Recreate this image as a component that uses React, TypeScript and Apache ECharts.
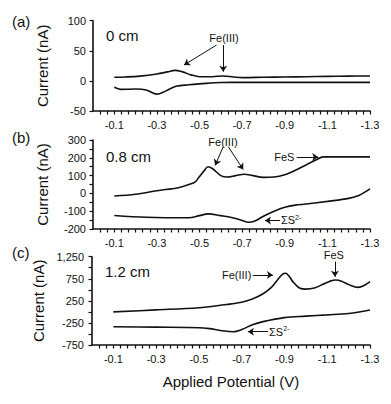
import React, { useEffect, useRef } from "react";
import * as echarts from "echarts";

// ---- Data (potential in V, current in nA) ----
const aUpperV = [-0.1, -0.15, -0.22, -0.3, -0.35, -0.385, -0.42, -0.46, -0.5, -0.56, -0.61, -0.66, -0.7, -0.8, -0.9, -1.0, -1.1, -1.2, -1.3];
const aUpperI = [6, 6.5, 8, 11.5, 15, 17.5, 15, 10, 7, 7, 8.2, 6.5, 5.5, 6, 6.5, 7, 7.5, 8, 8.2];
const aLowerV = [-0.1, -0.13, -0.2, -0.25, -0.3, -0.34, -0.39, -0.45, -0.5, -0.6, -0.7, -0.9, -1.1, -1.3];
const aLowerI = [-10.6, -14, -13.5, -15, -22, -17, -9, -6.5, -5, -2.6, -2.5, -2.4, -2.4, -2.4];

const bUpperV = [-0.1, -0.2, -0.3, -0.4, -0.45, -0.48, -0.5, -0.52, -0.54, -0.56, -0.6, -0.63, -0.67, -0.71, -0.75, -0.8, -0.85, -0.9, -0.95, -1.0, -1.05, -1.08, -1.2, -1.3];
const bUpperI = [-15, -5, 15, 32, 50, 65, 95, 125, 150, 140, 100, 92, 100, 108, 100, 90, 92, 105, 130, 160, 190, 205, 205, 205];
const bLowerV = [-0.1, -0.25, -0.45, -0.5, -0.54, -0.6, -0.65, -0.7, -0.73, -0.76, -0.8, -0.85, -0.9, -0.95, -1.0, -1.1, -1.2, -1.25, -1.3];
const bLowerI = [-124, -134, -137, -125, -115, -125, -135, -152, -162, -155, -128, -100, -78, -66, -60, -45, -28, -10, 25];

const cUpperV = [-0.1, -0.3, -0.5, -0.6, -0.7, -0.75, -0.8, -0.84, -0.87, -0.89, -0.905, -0.92, -0.94, -0.97, -1.0, -1.04, -1.08, -1.11, -1.14, -1.17, -1.2, -1.245, -1.27, -1.3];
const cUpperI = [0, 45, 95, 150, 220, 290, 410, 560, 740, 850, 875, 820, 680, 540, 515, 540, 625, 690, 722, 690, 620, 555, 590, 684];
const cLowerV = [-0.1, -0.3, -0.5, -0.55, -0.6, -0.66, -0.7, -0.75, -0.8, -0.9, -1.0, -1.1, -1.2, -1.3];
const cLowerI = [-335, -345, -358, -380, -420, -449, -400, -290, -220, -130, -95, -68, -35, 43];

const xLabels = [-0.1, -0.3, -0.5, -0.7, -0.9, -1.1, -1.3];
const aYTicks = [-50, 0, 50, 100];
const cYLabels = [-750, -250, 250, 750, 1250];

const FONT = "Liberation Sans, Arial, sans-serif";
const INK = "#111";

const zip = (v: number[], i: number[]) => v.map((x, k) => [x, i[k]]);

const xTickValues: number[] = [];
for (let k = 1; k <= 39; k++) xTickValues.push(-k / 30);

function App() {
  const ref = useRef<HTMLDivElement>(null);
  useEffect(() => {
    if (!ref.current) return;
    const chart = echarts.init(ref.current, null, { renderer: "svg" });

    const grids = [
      { left: 93, top: 20.7, width: 277, height: 90.3 },
      { left: 93, top: 140, width: 277, height: 89 },
      { left: 92, top: 256.7, width: 278, height: 88.3 },
    ];

    const xAxis = grids.map((_, i) => ({
      type: "value",
      gridIndex: i,
      min: -1.3,
      max: 0,
      inverse: true,
      axisLine: { show: true, onZero: false, lineStyle: { color: INK, width: 1.6 } },
      axisTick: {
        show: true,
        inside: false,
        length: 3.5,
        customValues: xTickValues,
        lineStyle: { color: INK, width: 1.2 },
      },
      axisLabel: {
        customValues: xLabels,
        margin: 8,
        fontSize: 11,
        fontFamily: FONT,
        color: INK,
        formatter: (v: number) => v.toFixed(1),
      },
      splitLine: { show: false },
      ...(i === 2
        ? {
            name: "Applied Potential (V)",
            nameLocation: "middle",
            nameGap: 29,
            nameTextStyle: { fontSize: 15, fontFamily: FONT, color: INK },
          }
        : {}),
    }));

    const yCommon = (i: number) => ({
      type: "value",
      gridIndex: i,
      name: "Current (nA)",
      nameLocation: "middle",
      nameGap: i === 2 ? 42 : 43,
      nameTextStyle: { fontSize: 15, fontFamily: FONT, color: INK },
      axisLine: { show: true, onZero: false, lineStyle: { color: INK, width: 1.6 } },
      splitLine: { show: false },
    });

    const yAxis = [
      {
        ...yCommon(0),
        min: -50,
        max: 100,
        interval: 50,
        axisTick: { show: true, length: 3.5, customValues: aYTicks, lineStyle: { color: INK, width: 1.2 } },
        axisLabel: { margin: 7, fontSize: 11, fontFamily: FONT, color: INK },
      },
      {
        ...yCommon(1),
        min: -200,
        max: 300,
        interval: 100,
        axisTick: { show: true, length: 3.5, lineStyle: { color: INK, width: 1.2 } },
        minorTick: { show: true, splitNumber: 2, length: 3.5, lineStyle: { color: INK, width: 1.2 } },
        axisLabel: { margin: 7, fontSize: 11, fontFamily: FONT, color: INK },
      },
      {
        ...yCommon(2),
        min: -750,
        max: 1250,
        axisTick: {
          show: true,
          length: 3.5,
          customValues: [-750, -500, -250, 0, 250, 500, 750, 1000, 1250],
          lineStyle: { color: INK, width: 1.2 },
        },
        axisLabel: {
          customValues: cYLabels,
          margin: 8,
          fontSize: 11,
          fontFamily: FONT,
          color: INK,
          formatter: (v: number) => v.toLocaleString("en-US"),
        },
      },
    ];

    const lineStyle = { color: INK, width: 1.6 };
    const arrow = (p: number[], q: number[]) => [{ coord: p }, { coord: q }];
    const markLine = (lines: any[]) => ({
      silent: true,
      symbol: ["none", "arrow"],
      symbolSize: 6,
      lineStyle: { color: INK, width: 1, type: "solid" },
      label: { show: false },
      data: lines,
    });
    const txt = (coord: number[], text: string, align = "center", offset = [0, 0]) => ({
      coord,
      symbol: "circle",
      symbolSize: 0.1,
      itemStyle: { color: "rgba(0,0,0,0)" },
      label: {
        show: true,
        position: "inside",
        formatter: text,
        align,
        offset,
        verticalAlign: "middle",
        fontSize: 11,
        fontFamily: FONT,
        color: INK,
        rich: {
          a: { fontSize: 11, fontFamily: FONT, color: INK },
          b: { fontSize: 7, fontFamily: FONT, color: INK, padding: [0, 0, 6, 0] },
        },
      },
    });
    const markPoint = (items: any[]) => ({ silent: true, data: items });

    const series: any[] = [
      {
        type: "line", xAxisIndex: 0, yAxisIndex: 0, data: zip(aUpperV, aUpperI),
        showSymbol: false, smooth: 0.35, lineStyle,
        markLine: markLine([
          arrow([-0.58, 59.6], [-0.427, 26.4]),
          arrow([-0.611, 59.6], [-0.611, 15.3]),
        ]),
        markPoint: markPoint([txt([-0.615, 71], "Fe(III)")]),
      },
      {
        type: "line", xAxisIndex: 0, yAxisIndex: 0, data: zip(aLowerV, aLowerI),
        showSymbol: false, smooth: 0.35, lineStyle,
      },
      {
        type: "line", xAxisIndex: 1, yAxisIndex: 1, data: zip(bUpperV, bUpperI),
        showSymbol: false, smooth: 0.35, lineStyle,
        markLine: markLine([
          arrow([-0.611, 262], [-0.573, 157]),
          arrow([-0.635, 262], [-0.705, 134]),
          arrow([-0.956, 205], [-1.057, 205]),
        ]),
        markPoint: markPoint([
          txt([-0.61, 288], "Fe(III)"),
          txt([-0.945, 205], "FeS", "right"),
        ]),
      },
      {
        type: "line", xAxisIndex: 1, yAxisIndex: 1, data: zip(bLowerV, bLowerI),
        showSymbol: false, smooth: 0.35, lineStyle,
        markLine: markLine([arrow([-0.878, -152], [-0.807, -152])]),
        markPoint: markPoint([txt([-0.882, -152], "{a|ΣS}{b|2-}", "left")]),
      },
      {
        type: "line", xAxisIndex: 2, yAxisIndex: 2, data: zip(cUpperV, cUpperI),
        showSymbol: false, smooth: 0.35, lineStyle,
        markLine: markLine([
          arrow([-0.752, 835], [-0.846, 835]),
          arrow([-1.136, 1137], [-1.136, 797]),
        ]),
        markPoint: markPoint([
          txt([-0.745, 835], "Fe(III)", "right"),
          txt([-1.131, 1230], "FeS", "center", [0, -3]),
        ]),
      },
      {
        type: "line", xAxisIndex: 2, yAxisIndex: 2, data: zip(cLowerV, cLowerI),
        showSymbol: false, smooth: 0.35, lineStyle,
        markLine: markLine([arrow([-0.823, -449], [-0.729, -449])]),
        markPoint: markPoint([txt([-0.828, -449], "{a|ΣS}{b|2-}", "left")]),
      },
    ];

    const txtStyle = (text: string, size: number) => ({
      text, fontSize: size, fontFamily: FONT, fill: INK,
      textVerticalAlign: "middle", verticalAlign: "middle",
    });

    chart.setOption({
      animation: false,
      backgroundColor: "#fff",
      grid: grids,
      xAxis,
      yAxis,
      series,
      graphic: [
        { type: "text", left: 12, top: 14, style: txtStyle("(a)", 15) },
        { type: "text", left: 12, top: 130, style: txtStyle("(b)", 15) },
        { type: "text", left: 12, top: 245, style: txtStyle("(c)", 15) },
        { type: "text", left: 106, top: 28, style: txtStyle("0 cm", 15) },
        { type: "text", left: 106, top: 149, style: txtStyle("0.8 cm", 15) },
        { type: "text", left: 105, top: 264, style: txtStyle("1.2 cm", 15) },
      ],
    });
    return () => chart.dispose();
  }, []);
  return <div ref={ref} style={{ width: 391, height: 404, position: "absolute", left: 0, top: 0 }} />;
}

export default App;
